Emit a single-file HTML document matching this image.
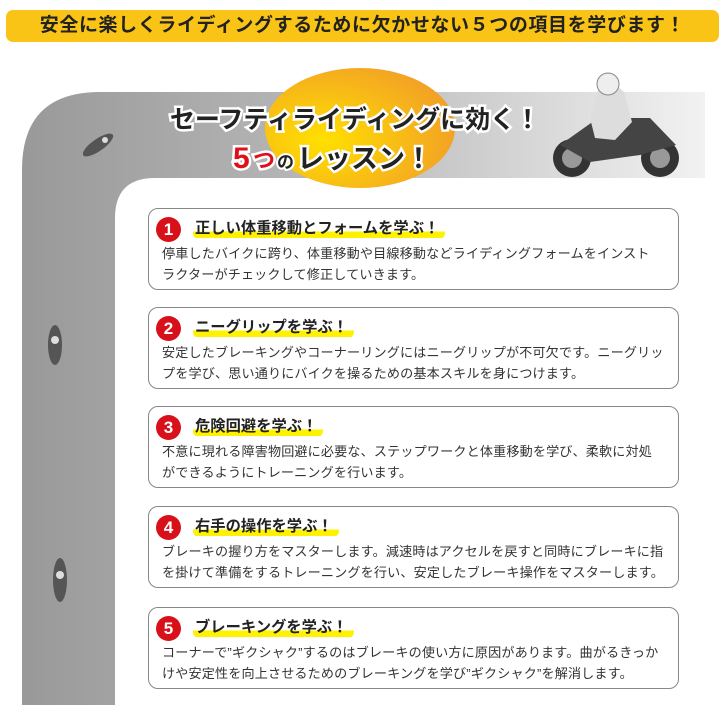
<!DOCTYPE html>
<html><head><meta charset="utf-8"><style>
*{margin:0;padding:0;box-sizing:border-box}
body{width:724px;height:705px;background:#fff;position:relative;overflow:hidden;font-family:"Liberation Sans","Noto Sans CJK JP",sans-serif;color:#222}
.hdr{position:absolute;left:6px;top:10px;width:713px;height:32px;background:#f9c416;border-radius:7px;text-align:center;font-size:19px;font-weight:bold;line-height:32px;color:#222;letter-spacing:0.6px}
.box{position:absolute;left:148px;width:531px;height:82px;border:1px solid #888;border-radius:10px;background:#fff}
.num{position:absolute;left:7px;top:8px;width:25px;height:25px;border-radius:50%;background:#d8101a;color:#fff;font-weight:bold;font-size:17px;text-align:center;line-height:25px}
.ttl{position:absolute;left:44px;top:10px;font-weight:bold;font-size:15.3px;line-height:20px;padding:0 6px 0 2px;background:linear-gradient(transparent 62%,#fff200 62%,#fff200 95%,transparent 95%);border-radius:0 0 6px 6px}
.txt{position:absolute;left:13px;top:35px;font-size:13.1px;line-height:20.5px;letter-spacing:0.15px;color:#333;white-space:nowrap}
</style></head><body>
<div class="hdr">安全に楽しくライディングするために欠かせない５つの項目を学びます！</div>
<svg width="724" height="705" style="position:absolute;left:0;top:0">
<defs>
<linearGradient id="g" x1="0" x2="1" y1="0" y2="0"><stop offset="0" stop-color="#999"/><stop offset="0.5" stop-color="#bcbcbc"/><stop offset="1" stop-color="#f2f2f2"/></linearGradient>
<radialGradient id="o" cx="0.3" cy="0.6" r="0.8"><stop offset="0" stop-color="#ffe000"/><stop offset="1" stop-color="#f19a2a"/></radialGradient>
</defs>
<path d="M22 705 V170 Q22 92 100 92 H705 V178 H155 Q115 178 115 218 V705 Z" fill="url(#g)"/>
<ellipse cx="360" cy="128" rx="95" ry="60" fill="url(#o)"/>
<text x="355" y="128" text-anchor="middle" font-size="25" font-weight="bold" fill="#222" stroke="#fff" stroke-width="5" paint-order="stroke" font-family="Liberation Sans,Noto Sans CJK JP,sans-serif">セーフティライディングに効く！</text>
<text x="233" y="168" font-size="30" font-weight="bold" fill="#e0101a" stroke="#fff" stroke-width="5" paint-order="stroke" font-family="Liberation Sans,Noto Sans CJK JP,sans-serif">5</text>
<text x="253" y="168" font-size="22" font-weight="bold" fill="#e0101a" stroke="#fff" stroke-width="5" paint-order="stroke" font-family="Liberation Sans,Noto Sans CJK JP,sans-serif">つ</text>
<text x="277" y="168" font-size="17" font-weight="bold" fill="#222" stroke="#fff" stroke-width="4" paint-order="stroke" font-family="Liberation Sans,Noto Sans CJK JP,sans-serif">の</text>
<text x="297" y="168" font-size="27" font-weight="bold" fill="#222" stroke="#fff" stroke-width="5" paint-order="stroke" font-family="Liberation Sans,Noto Sans CJK JP,sans-serif">レッスン！</text>
<g>
<circle cx="572" cy="158" r="19" fill="#333"/><circle cx="572" cy="158" r="10" fill="#999"/>
<circle cx="660" cy="158" r="19" fill="#333"/><circle cx="660" cy="158" r="10" fill="#999"/>
<path d="M560 145 L598 118 L650 118 L676 145 L640 155 L590 162 Z" fill="#444"/>
<path d="M590 118 L598 90 L610 80 L624 92 L632 122 L615 140 L595 138Z" fill="#ddd"/>
<circle cx="608" cy="84" r="11" fill="#eee" stroke="#888"/>
</g>
<g fill="#555"><ellipse cx="98" cy="145" rx="6" ry="18" transform="rotate(55 98 145)"/><ellipse cx="55" cy="345" rx="7" ry="20"/><ellipse cx="60" cy="580" rx="7" ry="22"/></g>
<g fill="#ddd"><circle cx="105" cy="140" r="3"/><circle cx="55" cy="340" r="4"/><circle cx="60" cy="575" r="4"/></g>
</svg>
<div class="box" style="top:208px"><div class="num">1</div><div class="ttl">正しい体重移動とフォームを学ぶ！</div><div class="txt">停車したバイクに跨り、体重移動や目線移動などライディングフォームをインスト<br>ラクターがチェックして修正していきます。</div></div>
<div class="box" style="top:307px"><div class="num">2</div><div class="ttl">ニーグリップを学ぶ！</div><div class="txt">安定したブレーキングやコーナーリングにはニーグリップが不可欠です。ニーグリッ<br>プを学び、思い通りにバイクを操るための基本スキルを身につけます。</div></div>
<div class="box" style="top:406px"><div class="num">3</div><div class="ttl">危険回避を学ぶ！</div><div class="txt">不意に現れる障害物回避に必要な、ステップワークと体重移動を学び、柔軟に対処<br>ができるようにトレーニングを行います。</div></div>
<div class="box" style="top:506px"><div class="num">4</div><div class="ttl">右手の操作を学ぶ！</div><div class="txt">ブレーキの握り方をマスターします。減速時はアクセルを戻すと同時にブレーキに指<br>を掛けて準備をするトレーニングを行い、安定したブレーキ操作をマスターします。</div></div>
<div class="box" style="top:607px"><div class="num">5</div><div class="ttl">ブレーキングを学ぶ！</div><div class="txt">コーナーで”ギクシャク”するのはブレーキの使い方に原因があります。曲がるきっか<br>けや安定性を向上させるためのブレーキングを学び”ギクシャク”を解消します。</div></div>
</body></html>
